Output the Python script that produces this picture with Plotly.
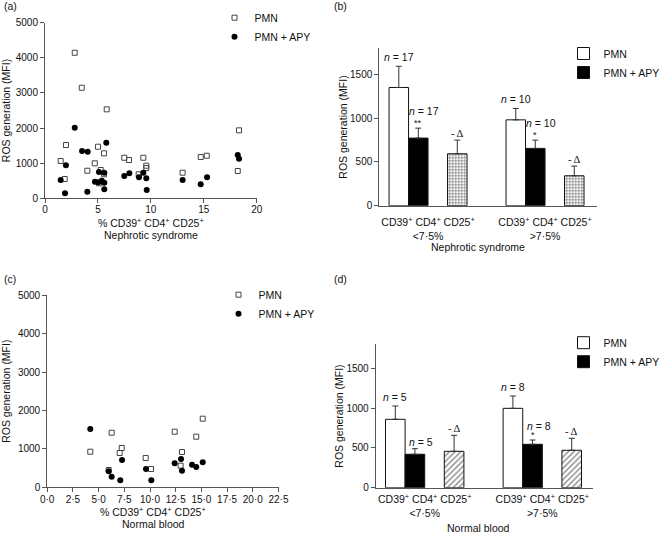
import plotly.graph_objects as go

W, H = 666, 536

# ---------------- data ----------------
# (a) Nephrotic syndrome scatter
a_pmn_x = [2.81, 3.47, 5.83, 1.98, 5.01, 5.58, 1.48, 4.70, 4.00, 5.26, 5.58, 5.10, 1.86,
           7.49, 7.94, 9.29, 9.57, 9.57, 8.85, 13.0, 14.71, 15.28, 18.33, 18.21]
a_pmn_y = [4144, 3148, 2533, 1517, 1469, 1281, 1062, 996, 785, 805, 683, 427, 549,
           1155, 1090, 1155, 928, 862, 683, 729, 1175, 1212, 1935, 777]
a_apy_x = [2.81, 3.50, 4.03, 5.79, 1.98, 1.48, 1.89, 4.00, 5.10, 5.60, 4.72, 5.04, 5.36,
           5.60, 5.60, 7.49, 7.97, 8.88, 9.29, 9.57, 9.61, 13.0, 14.71, 15.31, 18.21, 18.33]
a_apy_y = [2009, 1346, 1326, 1582, 939, 521, 142, 188, 749, 729, 472, 455, 501,
           444, 256, 635, 712, 598, 729, 569, 236, 521, 398, 598, 1232, 1127]

# (c) Normal blood scatter
c_pmn_x = [4.19, 6.27, 5.98, 7.25, 7.05, 9.58, 10.1, 12.4, 13.11, 12.98, 14.5, 15.13]
c_pmn_y = [921, 1417, 444, 1018, 887, 757, 470, 1443, 913, 556, 1313, 1783]
c_apy_x = [4.19, 5.98, 6.27, 7.11, 7.28, 9.61, 10.13, 12.4, 13.02, 13.11, 14.09, 14.5, 15.13]
c_apy_y = [1514, 410, 269, 175, 705, 470, 175, 619, 731, 425, 582, 522, 645]

# bar categories
group_labels = ["CD39<sup>+</sup> CD4<sup>+</sup> CD25<sup>+</sup><br><7·5%",
                "CD39<sup>+</sup> CD4<sup>+</sup> CD25<sup>+</sup><br>>7·5%"]

# (b) Nephrotic syndrome bars
b_pmn = [1352, 982]
b_pmn_err = [243, 130]
b_apy = [773, 655]
b_apy_err = [114, 95]
b_diff = [594, 342]
b_diff_err = [156, 111]
b_n = [17, 10]
b_sig = ["**", "*"]

# (d) Normal blood bars
d_pmn = [859, 997]
d_pmn_err = [167, 155]
d_apy = [420, 545]
d_apy_err = [70, 54]
d_diff = [457, 470]
d_diff_err = [201, 150]
d_n = [5, 8]
d_sig = ["", "*"]

scatter_x_ticks_a = [0, 5, 10, 15, 20]
scatter_x_ticks_c = [0, 2.5, 5, 7.5, 10, 12.5, 15, 17.5, 20, 22.5]
scatter_y_ticks = [0, 1000, 2000, 3000, 4000, 5000]
bar_y_ticks = [0, 500, 1000, 1500]

# ---------------- layout helpers ----------------
FONT = "Liberation Sans, Arial, sans-serif"
AX = "#555"
TXT = "#111"

# bar positions within each group (layout, not data)
POS_PMN = [1, 7]
POS_APY = [2, 8]
POS_DIFF = [4, 10]
GROUP_CENTER = [2.5, 8.5]


def dom_x(p0, p1):
    return [p0 / W, p1 / W]


def dom_y(top, bottom):
    return [1 - bottom / H, 1 - top / H]


def fmt_dot(v):
    s = f"{v:.1f}"
    return s.replace(".", "·")


fig = go.Figure()

# ---- scatter panels ----
def add_scatter(px, py, ax, ay, xs, ys, legend):
    fig.add_trace(go.Scatter(
        x=px, y=py, mode="markers", name="PMN", legend=legend,
        xaxis=xs, yaxis=ys, cliponaxis=False,
        marker=dict(symbol="square-open", size=5, color="#444", line=dict(width=1, color="#444"))))
    fig.add_trace(go.Scatter(
        x=ax, y=ay, mode="markers", name="PMN + APY", legend=legend,
        xaxis=xs, yaxis=ys, cliponaxis=False,
        marker=dict(symbol="circle", size=6, color="#000")))


add_scatter(a_pmn_x, a_pmn_y, a_apy_x, a_apy_y, "x", "y", "legend")
add_scatter(c_pmn_x, c_pmn_y, c_apy_x, c_apy_y, "x3", "y3", "legend3")


# ---- bar panels ----
def err(arr):
    return dict(type="data", array=arr, arrayminus=[0] * len(arr), symmetric=False,
                color="#333", thickness=1, width=3)


def add_bars(pmn, pmn_e, apy, apy_e, diff, diff_e, xs, ys, legend, pattern, psize, sol):
    fig.add_trace(go.Bar(
        x=POS_PMN, y=pmn, error_y=err(pmn_e), name="PMN", legend=legend,
        xaxis=xs, yaxis=ys, width=1,
        marker=dict(color="white", line=dict(color="#111", width=1))))
    fig.add_trace(go.Bar(
        x=POS_APY, y=apy, error_y=err(apy_e), name="PMN + APY", legend=legend,
        xaxis=xs, yaxis=ys, width=1,
        marker=dict(color="black", line=dict(color="#111", width=1))))
    fig.add_trace(go.Bar(
        x=POS_DIFF, y=diff, error_y=err(diff_e), name="Δ", showlegend=False,
        xaxis=xs, yaxis=ys, width=1,
        marker=dict(color="white", line=dict(color="#111", width=1),
                    pattern=dict(shape=pattern, fgcolor="#111", bgcolor="white",
                                 size=psize, solidity=sol))))


add_bars(b_pmn, b_pmn_err, b_apy, b_apy_err, b_diff, b_diff_err, "x2", "y2", "legend2", "+", 3, 0.45)
add_bars(d_pmn, d_pmn_err, d_apy, d_apy_err, d_diff, d_diff_err, "x4", "y4", "legend4", "/", 4, 0.35)

annotations = []


def bar_annotations(pmn, pmn_e, apy, apy_e, diff, diff_e, n, sig, xs, ys, n_sig_shift):
    for i in range(len(pmn)):
        annotations.append(dict(x=POS_PMN[i], y=pmn[i] + pmn_e[i], xref=xs, yref=ys,
                                text=f"<i>n</i> = {n[i]}", showarrow=False, yshift=9,
                                font=dict(size=10.5, color=TXT, family=FONT)))
        has_sig = sig[i] != ""
        annotations.append(dict(x=POS_APY[i], y=apy[i] + apy_e[i], xref=xs, yref=ys,
                                text=f"<i>n</i> = {n[i]}", showarrow=False,
                                yshift=n_sig_shift if has_sig else 7, xshift=6,
                                font=dict(size=10.5, color=TXT, family=FONT)))
        if has_sig:
            annotations.append(dict(x=POS_APY[i], y=apy[i] + apy_e[i], xref=xs, yref=ys,
                                    text=sig[i], showarrow=False, yshift=5,
                                    font=dict(size=9, color=TXT, family=FONT)))
        annotations.append(dict(x=POS_DIFF[i], y=diff[i] + diff_e[i], xref=xs, yref=ys,
                                text="- Δ", showarrow=False, yshift=7,
                                font=dict(size=10.5, color=TXT, family="Liberation Serif, serif")))


bar_annotations(b_pmn, b_pmn_err, b_apy, b_apy_err, b_diff, b_diff_err, b_n, b_sig, "x2", "y2", 17)
bar_annotations(d_pmn, d_pmn_err, d_apy, d_apy_err, d_diff, d_diff_err, d_n, d_sig, "x4", "y4", 14)

title_font = dict(size=10.5, color=TXT, family=FONT)


def paper_text(text, px, py, anchor="center", font=title_font):
    annotations.append(dict(text=text, x=px / W, y=1 - py / H, xref="paper", yref="paper",
                            xanchor=anchor, yanchor="middle", showarrow=False, font=font))


for lab, px, py in [("(a)", 2, 6), ("(b)", 332, 6), ("(c)", 2, 279), ("(d)", 332, 279)]:
    paper_text(lab, px, py, anchor="left")

sc_title = "% CD39<sup>+</sup> CD4<sup>+</sup> CD25<sup>+</sup>"
paper_text(sc_title, 151, 222)
paper_text("Nephrotic syndrome", 151, 234.5)
paper_text(sc_title, 153, 511)
paper_text("Normal blood", 153, 524)
paper_text("Nephrotic syndrome", 478, 246.7)
paper_text("Normal blood", 478.3, 528.3)

common_axis = dict(showline=True, linecolor=AX, linewidth=1, ticks="outside", ticklen=4,
                   tickwidth=1, tickcolor=AX, showgrid=False, zeroline=False,
                   tickfont=dict(size=10, color=TXT, family=FONT), automargin=False)


def legend_cfg(text_left, top):
    return dict(x=(text_left - 44.5) / W, y=1 - top / H, xanchor="left", yanchor="top",
                bgcolor="rgba(0,0,0,0)", borderwidth=0,
                font=dict(size=10.5, color=TXT, family=FONT), itemwidth=30)


def bar_x(standoff):
    return dict(showline=True, linecolor=AX, linewidth=1, ticks="", showgrid=False,
                zeroline=False, tickvals=GROUP_CENTER, ticktext=group_labels,
                tickfont=dict(size=10.5, color=TXT, family=FONT), automargin=False,
                ticklabelstandoff=standoff)


def ytitle(standoff):
    return dict(text="ROS generation (MFI)", font=title_font, standoff=standoff)


fig.update_layout(
    width=W, height=H, margin=dict(l=0, r=0, t=0, b=0, pad=0, autoexpand=False),
    paper_bgcolor="white", plot_bgcolor="white",
    barmode="overlay", showlegend=True,
    font=dict(family=FONT, color=TXT),
    xaxis=dict(domain=dom_x(45, 256.7), anchor="y", range=[0, 20],
               tickvals=scatter_x_ticks_a, ticktext=[str(v) for v in scatter_x_ticks_a],
               ticklabelstandoff=-2, **common_axis),
    yaxis=dict(domain=dom_y(22.7, 198.3), anchor="x", range=[0, 5000],
               tickvals=scatter_y_ticks, title=ytitle(4), **common_axis),
    xaxis3=dict(domain=dom_x(47.2, 278.5), anchor="y3", range=[0, 22.5],
                tickvals=scatter_x_ticks_c, ticktext=[fmt_dot(v) for v in scatter_x_ticks_c],
                ticklabelstandoff=-1, **common_axis),
    yaxis3=dict(domain=dom_y(295.4, 487), anchor="x3", range=[0, 5000],
                tickvals=scatter_y_ticks, title=ytitle(6), **common_axis),
    xaxis2=dict(domain=dom_x(379.3, 596.7), anchor="y2", range=[0, 11.15], **bar_x(7)),
    yaxis2=dict(domain=dom_y(48.3, 205.7), anchor="x2", range=[0, 1800],
                tickvals=bar_y_ticks, title=ytitle(0), **common_axis),
    xaxis4=dict(domain=dom_x(375.7, 592.7), anchor="y4", range=[0, 11.07], **bar_x(2)),
    yaxis4=dict(domain=dom_y(344.4, 487.7), anchor="x4", range=[0, 1800],
                tickvals=bar_y_ticks, title=ytitle(0), **common_axis),
    legend=legend_cfg(259, 3.2),
    legend3=legend_cfg(263, 280.2),
    legend2=legend_cfg(608, 39),
    legend4=legend_cfg(608, 328.2),
    annotations=annotations,
)

fig.write_html("out.html", config={"displayModeBar": False},
               post_script="document.body.style.margin='0';document.body.style.padding='0';"
                           "document.documentElement.style.overflow='hidden';")
